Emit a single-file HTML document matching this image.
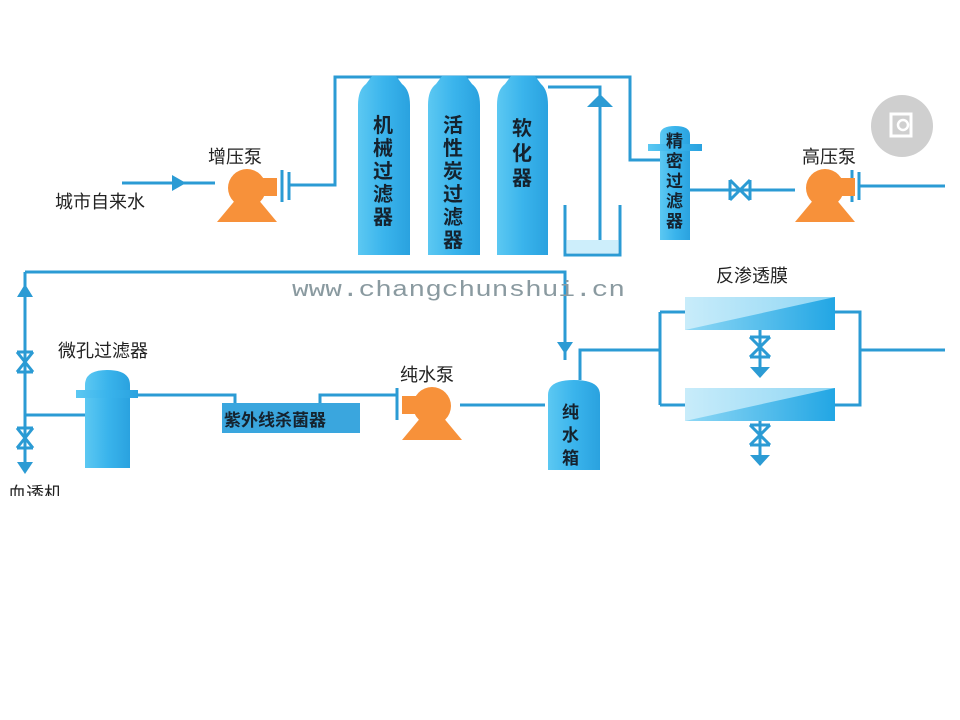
<!DOCTYPE html>
<html><head><meta charset="utf-8"><style>
html,body{margin:0;padding:0;background:#fff;}
svg{display:block}
text{font-family:"Liberation Sans","Noto Sans CJK SC",sans-serif;}
text.wm{font-family:"Liberation Mono",monospace;}
</style></head><body>
<svg width="960" height="720" viewBox="0 0 960 720">
<defs>
<linearGradient id="tk" x1="0" x2="1"><stop offset="0" stop-color="#5cc8f2"/><stop offset="0.5" stop-color="#3ab4ec"/><stop offset="1" stop-color="#2aa2df"/></linearGradient>
<linearGradient id="ro" x1="0" x2="1"><stop offset="0" stop-color="#c8ecfa"/><stop offset="1" stop-color="#8fd6f4"/></linearGradient>
<linearGradient id="ro2" x1="0" x2="1"><stop offset="0" stop-color="#8fd8f5"/><stop offset="1" stop-color="#22a6e4"/></linearGradient>
<g id="pump">
<circle cx="0" cy="-2" r="19"/>
<rect x="0" y="-12" width="30" height="18"/>
<polygon points="-10,8 10,8 30,32 -30,32"/>
</g>
</defs>
<g stroke="#2b9bd4" stroke-width="3" fill="none">
<path d="M122 183 H215"/>
<path d="M290 185 H335 V77 H630 V160 H660"/>
<path d="M548 87 H600 V245"/>
<path d="M690 190 H795"/>
<path d="M860 186 H945"/>
<path d="M565 205 V255 H620 V205"/>
<path d="M25 272 H565 V360"/>
<path d="M580 380 V350 H660"/>
<path d="M660 312 V405"/><path d="M660 312 H685 M660 405 H685"/>
<path d="M835 312 H860 V405 H835"/>
<path d="M860 350 H945"/>
<path d="M460 405 H545"/>
<path d="M397 395 H320 V405"/>
<path d="M235 405 V395 H130"/>
<path d="M25 272 V470"/>
<path d="M25 415 H85"/>
<path d="M760 330 V375 M760 420 V462"/>
</g>
<g stroke="#2b9bd4" stroke-width="3">
<line x1="282" y1="170" x2="282" y2="202"/><line x1="289" y1="172" x2="289" y2="200"/>
<line x1="852" y1="170" x2="852" y2="202"/><line x1="859" y1="172" x2="859" y2="200"/>
<line x1="397" y1="388" x2="397" y2="420"/>
</g>
<g fill="#2b9bd4">
<polygon points="172,175 186,183 172,191"/>
<polygon points="587,107 600,94 613,107"/>
<polygon points="17,297 25,284 33,297"/>
<polygon points="17,462 25,474 33,462"/>
<polygon points="557,342 565,354 573,342"/>
<polygon points="750,367 760,378 770,367"/>
<polygon points="750,455 760,466 770,455"/>
</g>
<g fill="none" stroke="#2b9bd4" stroke-width="3">
<path d="M17 352 L33 372 M33 352 L17 372 M17 352 H33 M17 372 H33"/>
<path d="M17 428 L33 448 M33 428 L17 448 M17 428 H33 M17 448 H33"/>
<path d="M730 180 L750 200 M750 180 L730 200 M730 180 V200 M750 180 V200"/>
<path d="M750 337 L770 357 M770 337 L750 357 M750 337 H770 M750 357 H770"/>
<path d="M750 425 L770 445 M770 425 L750 445 M750 425 H770 M750 445 H770"/>
</g>
<g fill="url(#tk)">
<path d="M358 255 V105 Q358 90 366 84 L372 76 H396 L402 84 Q410 90 410 105 V255 Z"/>
<path d="M428 255 V105 Q428 90 436 84 L442 76 H466 L472 84 Q480 90 480 105 V255 Z"/>
<path d="M497 255 V105 Q497 90 505 84 L511 76 H535 L541 84 Q548 90 548 105 V255 Z"/>
<path d="M660 240 V135 Q660 126 675 126 Q690 126 690 135 V240 Z"/>
<rect x="648" y="144" width="54" height="7"/>
<path d="M548 470 V395 Q548 380 574 380 Q600 380 600 395 V470 Z"/>
<path d="M85 468 V385 Q85 370 107 370 Q130 370 130 385 V468 Z"/>
<rect x="76" y="390" width="62" height="8"/>
</g>
<rect x="567" y="240" width="51" height="13" fill="#cdeefb"/>
<rect x="222" y="403" width="138" height="30" fill="#3aa6de"/>
<rect x="685" y="297" width="150" height="33" fill="url(#ro)"/>
<polygon points="685,330 835,297 835,330" fill="url(#ro2)"/>
<rect x="685" y="388" width="150" height="33" fill="url(#ro)"/>
<polygon points="685,421 835,388 835,421" fill="url(#ro2)"/>
<g fill="#f7913a">
<use href="#pump" x="247" y="190"/>
<use href="#pump" x="825" y="190"/>
<use href="#pump" transform="translate(432,408) scale(-1,1)"/>
</g>
<circle cx="902" cy="126" r="31" fill="#cfcfcf"/>
<rect x="891" y="114" width="20" height="22" fill="none" stroke="#fff" stroke-width="3"/>
<circle cx="903" cy="125" r="5" fill="none" stroke="#fff" stroke-width="2.5"/>
<g font-size="18" fill="#222">
<text x="55" y="208">城市自来水</text>
<text x="208" y="163">增压泵</text>
<text x="802" y="163">高压泵</text>
<text x="716" y="282">反渗透膜</text>
<text x="58" y="357">微孔过滤器</text>
<text x="400" y="381">纯水泵</text>
<text x="8" y="500">血透机</text>
</g>
<g font-size="20" fill="#15222e" font-weight="bold">
<text x="373" y="132">机</text><text x="373" y="155">械</text><text x="373" y="178">过</text><text x="373" y="201">滤</text><text x="373" y="224">器</text>
<text x="443" y="132">活</text><text x="443" y="155">性</text><text x="443" y="178">炭</text><text x="443" y="201">过</text><text x="443" y="224">滤</text><text x="443" y="247">器</text>
<text x="512" y="135">软</text><text x="512" y="160">化</text><text x="512" y="185">器</text>
</g>
<g font-size="17" fill="#15222e" font-weight="bold">
<text x="666" y="147">精</text><text x="666" y="167">密</text><text x="666" y="187">过</text><text x="666" y="207">滤</text><text x="666" y="227">器</text>
<text x="562" y="418">纯</text><text x="562" y="441">水</text><text x="562" y="464">箱</text>
<text x="224" y="426">紫外线杀菌器</text>
</g>
<text class="wm" x="292" y="296" font-size="22" fill="#8a9aa0" textLength="333" lengthAdjust="spacingAndGlyphs">www.changchunshui.cn</text>
<rect x="0" y="496" width="960" height="224" fill="#fff"/>
</svg>
</body></html>
